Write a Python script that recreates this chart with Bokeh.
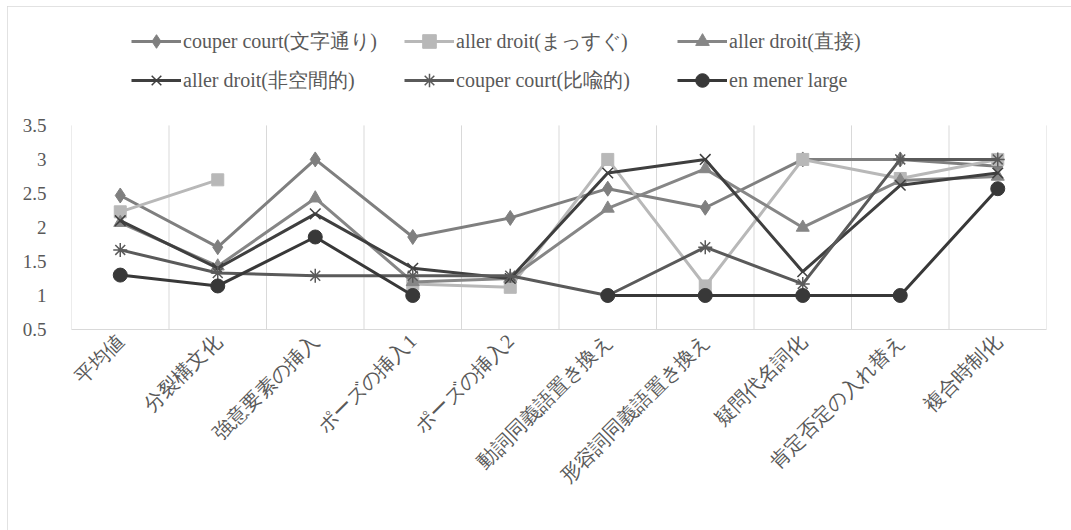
import numpy as np
from bokeh.plotting import figure
from bokeh.models import (ColumnDataSource, FixedTicker, NumeralTickFormatter,
                          Legend, LegendItem, Range1d)
from bokeh.embed import file_html
from bokeh.resources import INLINE

nan = float("nan")

categories = ["平均値", "分裂構文化", "強意要素の挿入", "ポーズの挿入1", "ポーズの挿入2",
              "動詞同義語置き換え", "形容詞同義語置き換え", "疑問代名詞化",
              "肯定否定の入れ替え", "複合時制化"]

series_names = ["couper court(文字通り)", "aller droit(まっすぐ)", "aller droit(直接)",
                "aller droit(非空間的)", "couper court(比喩的)", "en mener large"]

couper_court_litteral = [2.47, 1.71, 3.0, 1.86, 2.14, 2.57, 2.29, 3.0, 3.0, 2.9]
aller_droit_massugu = [2.23, 2.7, nan, 1.17, 1.12, 3.0, 1.14, 3.0, 2.72, 3.0]
aller_droit_chokusetsu = [2.07, 1.43, 2.43, 1.2, 1.25, 2.28, 2.86, 2.0, 2.69, 2.75]
aller_droit_hikukan = [2.1, 1.4, 2.2, 1.4, 1.25, 2.8, 3.0, 1.35, 2.62, 2.8]
couper_court_hiyu = [1.67, 1.33, 1.29, 1.29, 1.29, 1.0, 1.71, 1.17, 3.0, 3.0]
en_mener_large = [1.3, 1.14, 1.86, 1.0, nan, 1.0, 1.0, 1.0, 1.0, 2.57]

y_ticks = [0.5, 1, 1.5, 2, 2.5, 3, 3.5]

series_values = [couper_court_litteral, aller_droit_massugu, aller_droit_chokusetsu,
                 aller_droit_hikukan, couper_court_hiyu, en_mener_large]
colors = ["#7f7f7f", "#b8b8b8", "#868686", "#3f3f3f", "#5a5a5a", "#383838"]
markers = ["diamond", "square", "triangle", "x", "asterisk", "circle"]
msizes = [15, 12, 13, 15, 14, 14]

FONT = "Liberation Serif"
TXT = "#595959"
GRID = "#d9d9d9"

n = len(categories)
x = np.arange(n) + 0.5
bounds = np.arange(n + 1)

# the figure sits inside the chart border (page offset 7, 6)
p = figure(width=1064, height=524, output_backend="svg", toolbar_location=None,
           x_range=Range1d(0, n), y_range=Range1d(y_ticks[0], 5.16),
           min_border_left=64, min_border_right=25, min_border_top=6,
           min_border_bottom=201)
p.margin = (6, 0, 0, 7)
p.styles = {"outline": "1.5px solid #d9d9d9", "outline-offset": "-1px"}
p.outline_line_color = None
p.background_fill_color = "white"
p.border_fill_color = "white"

p.xaxis.ticker = FixedTicker(ticks=list(x))
p.xaxis.major_label_overrides = {float(xi): c for xi, c in zip(x, categories)}
p.xaxis.major_label_orientation = np.pi / 4
p.xaxis.axis_line_color = GRID
p.xaxis.major_tick_line_color = None
p.xaxis.minor_tick_line_color = None
p.xaxis.major_label_standoff = 2
p.xaxis.major_label_text_font = FONT
p.xaxis.major_label_text_font_size = "20px"
p.xaxis.major_label_text_color = TXT

p.yaxis.ticker = FixedTicker(ticks=y_ticks)
p.yaxis.formatter = NumeralTickFormatter(format="0.[0]")
p.yaxis.axis_line_color = None
p.yaxis.major_tick_line_color = None
p.yaxis.minor_tick_line_color = None
p.yaxis.major_label_standoff = 19
p.yaxis.major_label_text_font = FONT
p.yaxis.major_label_text_font_size = "19px"
p.yaxis.major_label_text_color = TXT

p.xgrid.grid_line_color = None
p.ygrid.grid_line_color = None

# vertical category-boundary gridlines over the value span only
p.segment(x0=bounds, y0=y_ticks[0], x1=bounds, y1=y_ticks[-1],
          line_color=GRID, line_width=1)

items = []
for name, vals, col, mk, ms in zip(series_names, series_values, colors, markers, msizes):
    src = ColumnDataSource(dict(x=x, y=np.array(vals, dtype=float)))
    lr = p.line("x", "y", source=src, line_color=col, line_width=3)
    lw = 1.5 if mk in ("x", "asterisk") else 1
    sr = p.scatter("x", "y", source=src, marker=mk, size=ms, fill_color=col,
                   line_color=col, line_width=lw)
    items.append(LegendItem(label=name, renderers=[lr, sr]))

# legend entries: glyph left x and centre y, in page pixels (3 aligned columns)
legend_pos = [(131, 41), (404, 41), (677, 41), (131, 80), (404, 80), (677, 80)]
frame_left, frame_bottom = 71, 329
gh = 34
for it, (gx, cy) in zip(items, legend_pos):
    lg = Legend(items=[it], location=(gx - frame_left, frame_bottom - (cy + gh / 2)),
                padding=0, margin=0, spacing=0, label_standoff=2,
                glyph_width=50, glyph_height=gh, label_height=gh,
                border_line_color=None, background_fill_alpha=0,
                label_text_font=FONT, label_text_font_size="20px",
                label_text_color=TXT)
    p.add_layout(lg, "center")

open("out.html", "w").write(file_html(p, INLINE))
